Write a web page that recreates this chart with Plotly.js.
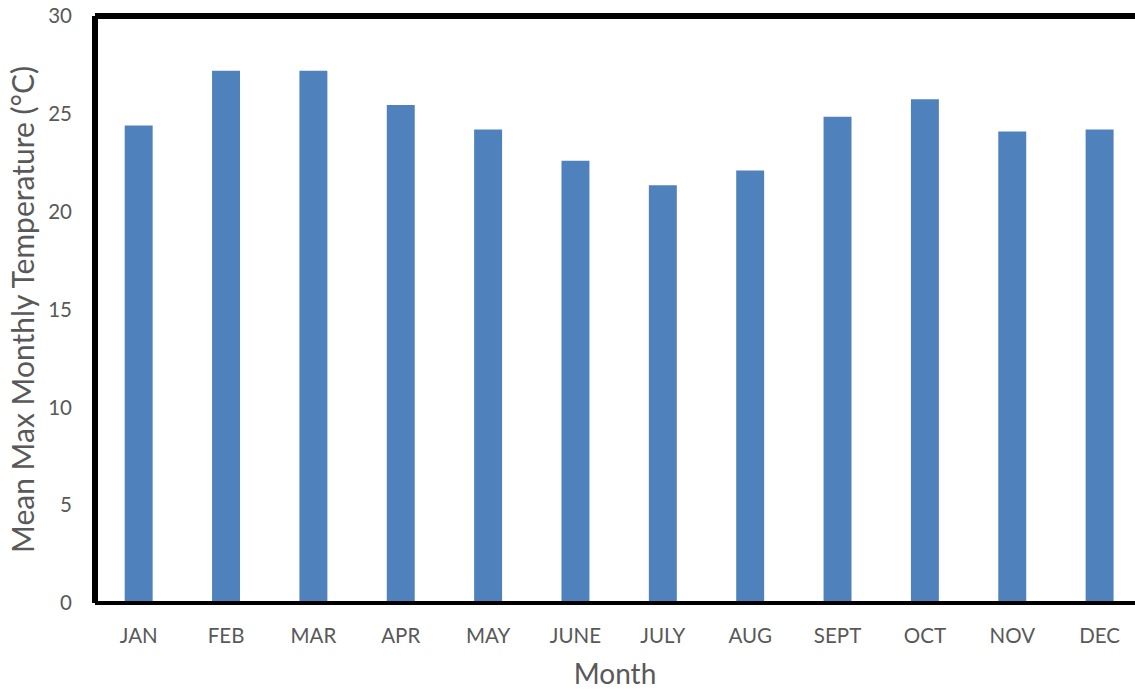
<!DOCTYPE html>
<html>
<head>
<meta charset="utf-8">
<script src="https://cdn.plot.ly/plotly-3.0.1.min.js"></script>
<style>
  html, body { margin: 0; padding: 0; background: #fff; }
  #chart { width: 1135px; height: 690px; }
</style>
</head>
<body>
<div id="chart"></div>
<script>
// mean max monthly temperature
var months = ["JAN", "FEB", "MAR", "APR", "MAY", "JUNE", "JULY", "AUG", "SEPT", "OCT", "NOV", "DEC"];
var temps = [24.4, 27.2, 27.2, 25.45, 24.2, 22.6, 21.35, 22.1, 24.85, 25.75, 24.1, 24.2];
var y_ticks = [0, 5, 10, 15, 20, 25, 30];

var gray = "#595959";
var font_family = "Lato, 'Open Sans', sans-serif";

var trace = {
    x: months,
    y: temps,
    type: 'bar',
    marker: {color: '#4F81BD'},
    hoverinfo: 'x+y'
};

var layout = {
    width: 1135,
    height: 690,
    margin: {t: 16, l: 95, r: 0, b: 87, pad: 0},
    paper_bgcolor: '#fff',
    plot_bgcolor: '#fff',
    bargap: 0.68,
    showlegend: false,
    font: {family: font_family, color: gray},
    xaxis: {
        type: 'category',
        range: [-0.5, 11.405],
        showgrid: false,
        showline: false,
        zeroline: false,
        ticks: '',
        ticklabelstandoff: 18,
        tickfont: {size: 20.5, color: gray},
        automargin: false,
        title: {text: "Month", font: {size: 28, color: gray}, standoff: 28}
    },
    yaxis: {
        range: [0, 30],
        tickvals: y_ticks,
        showgrid: false,
        showline: false,
        zeroline: false,
        ticks: '',
        ticklabelstandoff: 22,
        tickfont: {size: 20.5, color: gray},
        automargin: false,
        title: {text: "Mean Max Monthly Temperature (°C)", font: {size: 30, color: gray}, standoff: 4}
    },
    shapes: [
        {type: 'line', xref: 'paper', yref: 'paper', x0: 0, x1: 1, y0: 1, y1: 1, line: {color: '#000', width: 6}},
        {type: 'line', xref: 'paper', yref: 'paper', x0: 0, x1: 0, y0: 0, y1: 1, line: {color: '#000', width: 6}},
        {type: 'line', xref: 'paper', yref: 'paper', x0: 0, x1: 1, y0: 0, y1: 0, line: {color: '#000', width: 4}}
    ]
};

Plotly.newPlot('chart', [trace], layout, {displayModeBar: false, staticPlot: true});
</script>
</body>
</html>
